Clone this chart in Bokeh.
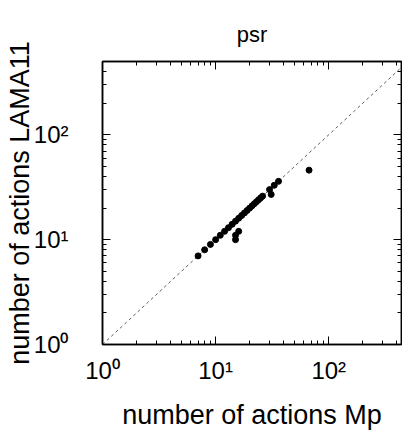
from bokeh.plotting import figure
from bokeh.models import LogAxis, FixedTicker, Range1d, CustomJSTickFormatter
from bokeh.embed import file_html
from bokeh.resources import INLINE

# ---- data ----
mp_actions = [7, 8, 9, 10, 11, 12, 13, 14, 15, 16, 17, 18, 19, 20, 21, 22, 23, 24, 25, 26,
              30, 33, 36, 16, 15, 15, 31, 67]
lama11_actions = [7, 8, 9, 10, 11, 12, 13, 14, 15, 16, 17, 18, 19, 20, 21, 22, 23, 24, 25, 26,
                  30, 33, 36, 12, 11, 10, 27, 46]

x_limits = [1, 440]
y_limits = [1, 500]
diag = [1, 500]

major_ticks = [1, 10, 100]
tick_labels = ["10⁰", "10¹", "10²"]
minor_ticks = [m * 10 ** d for d in range(0, 3) for m in range(2, 10)]

FONT = "Liberation Sans"

p = figure(width=402, height=432, x_axis_type="log", y_axis_type="log",
           x_range=Range1d(*x_limits), y_range=Range1d(*y_limits),
           output_backend="svg", toolbar_location=None,
           min_border_left=102, min_border_right=1, min_border_top=61, min_border_bottom=88,
           title="psr")

bottom_axis = p.below[0]
left_axis = p.left[0]

p.title.text_font = FONT
p.title.text_font_size = "22px"
p.title.text_font_style = "normal"
p.title.align = "center"
p.title.text_color = "black"
p.title.standoff = 29

p.grid.visible = False
p.outline_line_color = "black"
p.outline_line_width = 1.5

right_axis = LogAxis(formatter=CustomJSTickFormatter(code="return ''"))
top_axis = LogAxis(formatter=CustomJSTickFormatter(code="return ''"))
p.add_layout(right_axis, "right")
p.add_layout(top_axis, "above")

overrides = {t: l for t, l in zip(major_ticks, tick_labels)}

for ax in [bottom_axis, left_axis, right_axis, top_axis]:
    ax.ticker = FixedTicker(ticks=major_ticks, minor_ticks=minor_ticks)
    ax.major_tick_in = 8
    ax.major_tick_out = 0
    ax.minor_tick_in = 4
    ax.minor_tick_out = 0
    ax.axis_line_width = 1.5
    ax.axis_line_color = "black"
    ax.major_tick_line_color = "black"
    ax.minor_tick_line_color = "black"
    ax.major_tick_line_width = 1
    ax.minor_tick_line_width = 1

for ax in [right_axis, top_axis]:
    ax.major_label_standoff = 0
    ax.major_label_text_font_size = "1px"
    ax.axis_label_standoff = 0

for ax in [bottom_axis, left_axis]:
    ax.major_label_overrides = overrides
    ax.major_label_text_font = FONT
    ax.major_label_text_font_size = "24px"
    ax.major_label_text_color = "black"
    ax.axis_label_text_font = FONT
    ax.axis_label_text_font_size = "27px"
    ax.axis_label_text_font_style = "normal"
    ax.axis_label_text_color = "black"

bottom_axis.axis_label = "number of actions Mp"
left_axis.axis_label = "number of actions LAMA11"
bottom_axis.major_label_standoff = 12
left_axis.major_label_standoff = 34
bottom_axis.axis_label_standoff = 13
left_axis.axis_label_standoff = -4

p.line(diag, diag, line_color="#333333", line_width=0.8, line_dash="3 3")
p.scatter(mp_actions, lama11_actions, size=6, color="black")

open("out.html", "w").write(file_html(p, INLINE))
